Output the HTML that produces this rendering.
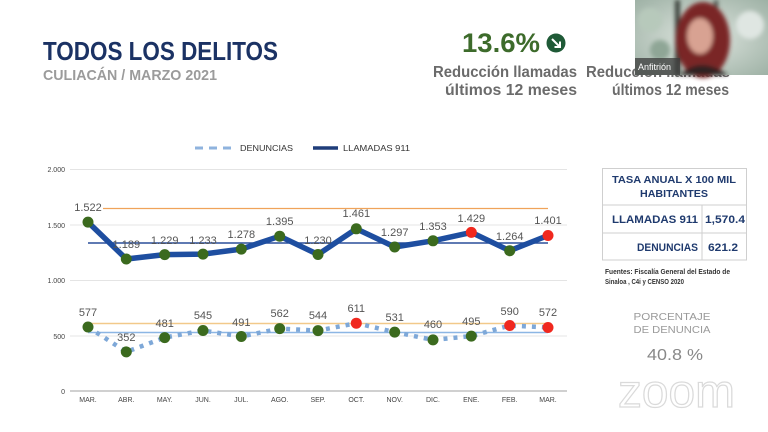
<!DOCTYPE html>
<html><head><meta charset="utf-8">
<style>
html,body{margin:0;padding:0;background:#fff;}
svg{display:block;font-family:"Liberation Sans",sans-serif;}
</style></head>
<body>
<svg width="768" height="432" viewBox="0 0 768 432" xmlns="http://www.w3.org/2000/svg">
<defs>
<radialGradient id="bg1" cx="0.5" cy="0.5" r="0.7">
<stop offset="0" stop-color="#dfe6e0"/><stop offset="1" stop-color="#9fb2a6"/>
</radialGradient>
<filter id="blur"><feGaussianBlur stdDeviation="2"/></filter>
</defs>
<rect width="768" height="432" fill="#fff"/>

<!-- Titles -->
<text x="43" y="60" font-size="26" font-weight="bold" fill="#1b3264" textLength="235" lengthAdjust="spacingAndGlyphs">TODOS LOS DELITOS</text>
<text x="43" y="80" font-size="15" font-weight="bold" fill="#9b9b9b" textLength="174" lengthAdjust="spacingAndGlyphs">CULIACÁN / MARZO 2021</text>

<text x="462" y="52" font-size="27" font-weight="bold" fill="#3d6b2b" textLength="78" lengthAdjust="spacingAndGlyphs">13.6%</text>
<circle cx="556" cy="43" r="9.5" fill="#1f5a37"/>
<path d="M552 39 L560 47 M560 41.5 L560 47 L554.5 47" stroke="#fff" stroke-width="2" fill="none"/>
<text x="433" y="77" font-size="16" font-weight="bold" fill="#6b6b6b" textLength="144" lengthAdjust="spacingAndGlyphs">Reducción llamadas</text>
<text x="445" y="95" font-size="16" font-weight="bold" fill="#6b6b6b" textLength="132" lengthAdjust="spacingAndGlyphs">últimos 12 meses</text>
<text x="586" y="77" font-size="16" font-weight="bold" fill="#6b6b6b" textLength="144" lengthAdjust="spacingAndGlyphs">Reducción llamadas</text>
<text x="612" y="95" font-size="16" font-weight="bold" fill="#6b6b6b" textLength="117" lengthAdjust="spacingAndGlyphs">últimos 12 meses</text>

<!-- Webcam -->
<g>
<rect x="635" y="0" width="133" height="75" fill="url(#bg1)"/>
<g filter="url(#blur)">
<circle cx="650" cy="20" r="12" fill="#b7c9bb"/>
<circle cx="750" cy="25" r="14" fill="#dfe6e2"/>
<circle cx="660" cy="50" r="10" fill="#8fa696"/>
<rect x="675" y="0" width="5" height="75" fill="#3a3f3a"/>
<rect x="714" y="0" width="4" height="40" fill="#4a4f4a"/>
<ellipse cx="703" cy="40" rx="27" ry="38" fill="#7a2626"/>
<ellipse cx="700" cy="36" rx="13" ry="18" fill="#d8a292"/>
<path d="M680 75 Q700 55 728 75 Z" fill="#2d2222"/>
</g>
<rect x="635" y="58" width="45" height="17" fill="#3b3b3b" opacity="0.75"/>
<text x="638" y="70" font-size="9" fill="#fff">Anfitrión</text>
</g>

<!-- Legend -->
<line x1="195" y1="148" x2="233" y2="148" stroke="#8fb3de" stroke-width="3" stroke-dasharray="8 6"/>
<text x="240" y="151" font-size="8.5" fill="#333" textLength="53" lengthAdjust="spacingAndGlyphs">DENUNCIAS</text>
<line x1="313" y1="148" x2="338" y2="148" stroke="#1f3d7a" stroke-width="3.5"/>
<text x="343" y="151" font-size="8.5" fill="#333" textLength="67" lengthAdjust="spacingAndGlyphs">LLAMADAS 911</text>

<!-- Grid -->
<g stroke="#e4e4e4" stroke-width="1">
<line x1="70" y1="169.5" x2="567" y2="169.5"/>
<line x1="70" y1="225" x2="567" y2="225"/>
<line x1="70" y1="280.5" x2="567" y2="280.5"/>
<line x1="70" y1="336" x2="567" y2="336"/>
</g>
<line x1="70" y1="391" x2="567" y2="391" stroke="#a0a0a0" stroke-width="1"/>
<g font-size="7" fill="#444" text-anchor="end">
<text x="65" y="172">2.000</text>
<text x="65" y="228">1.500</text>
<text x="65" y="283">1.000</text>
<text x="65" y="339">500</text>
<text x="65" y="394">0</text>
</g>
<g font-size="7" fill="#444" text-anchor="middle">
<text x="88" y="402">MAR.</text>
<text x="126.3" y="402">ABR.</text>
<text x="164.7" y="402">MAY.</text>
<text x="203" y="402">JUN.</text>
<text x="241.3" y="402">JUL.</text>
<text x="279.7" y="402">AGO.</text>
<text x="318" y="402">SEP.</text>
<text x="356.3" y="402">OCT.</text>
<text x="394.7" y="402">NOV.</text>
<text x="433" y="402">DIC.</text>
<text x="471.3" y="402">ENE.</text>
<text x="509.7" y="402">FEB.</text>
<text x="548" y="402">MAR.</text>
</g>

<!-- Reference lines -->
<line x1="103" y1="208.5" x2="548" y2="208.5" stroke="#f0a35a" stroke-width="1.3"/>
<line x1="88" y1="243" x2="548" y2="243" stroke="#2a4f9a" stroke-width="1.5"/>
<line x1="88" y1="323.5" x2="548" y2="323.5" stroke="#f2c98a" stroke-width="1.5"/>
<line x1="88" y1="332.5" x2="548" y2="332.5" stroke="#8cb6e4" stroke-width="1.5"/>

<!-- Llamadas -->
<polyline fill="none" stroke="#1e4ea0" stroke-width="5.5" stroke-linejoin="round" points="88,222.1 126.3,259 164.7,254.6 203,254.1 241.3,249.1 279.7,236.2 318,254.5 356.3,228.8 394.7,247 433,240.8 471.3,232.4 509.7,250.7 548,235.5"/>
<!-- Denuncias -->
<polyline fill="none" stroke="#7ea8d8" stroke-width="4.5" stroke-dasharray="4 6" points="88,327 126.3,351.9 164.7,337.6 203,330.5 241.3,336.5 279.7,328.6 318,330.6 356.3,323.2 394.7,332.1 433,339.9 471.3,336.1 509.7,325.5 548,327.5"/>

<g fill="#3b6a1e">
<circle cx="88" cy="222.1" r="5.5"/>
<circle cx="126.3" cy="259" r="5.5"/>
<circle cx="164.7" cy="254.6" r="5.5"/>
<circle cx="203" cy="254.1" r="5.5"/>
<circle cx="241.3" cy="249.1" r="5.5"/>
<circle cx="279.7" cy="236.2" r="5.5"/>
<circle cx="318" cy="254.5" r="5.5"/>
<circle cx="356.3" cy="228.8" r="5.5"/>
<circle cx="394.7" cy="247" r="5.5"/>
<circle cx="433" cy="240.8" r="5.5"/>
<circle cx="509.7" cy="250.7" r="5.5"/>
<circle cx="88" cy="327" r="5.5"/>
<circle cx="126.3" cy="351.9" r="5.5"/>
<circle cx="164.7" cy="337.6" r="5.5"/>
<circle cx="203" cy="330.5" r="5.5"/>
<circle cx="241.3" cy="336.5" r="5.5"/>
<circle cx="279.7" cy="328.6" r="5.5"/>
<circle cx="318" cy="330.6" r="5.5"/>
<circle cx="394.7" cy="332.1" r="5.5"/>
<circle cx="433" cy="339.9" r="5.5"/>
<circle cx="471.3" cy="336.1" r="5.5"/>
</g>
<g fill="#f0281e">
<circle cx="471.3" cy="232.4" r="5.5"/>
<circle cx="548" cy="235.5" r="5.5"/>
<circle cx="356.3" cy="323.2" r="5.5"/>
<circle cx="509.7" cy="325.5" r="5.5"/>
<circle cx="548" cy="327.5" r="5.5"/>
</g>

<g font-size="11" fill="#555" text-anchor="middle">
<text x="88" y="211">1.522</text>
<text x="126.3" y="248">1.189</text>
<text x="164.7" y="244">1.229</text>
<text x="203" y="244">1.233</text>
<text x="241.3" y="238">1.278</text>
<text x="279.7" y="225">1.395</text>
<text x="318" y="244">1.230</text>
<text x="356.3" y="217">1.461</text>
<text x="394.7" y="236">1.297</text>
<text x="433" y="230">1.353</text>
<text x="471.3" y="222">1.429</text>
<text x="509.7" y="240">1.264</text>
<text x="548" y="224">1.401</text>
<text x="88" y="316">577</text>
<text x="126.3" y="341">352</text>
<text x="164.7" y="327">481</text>
<text x="203" y="319">545</text>
<text x="241.3" y="326">491</text>
<text x="279.7" y="317">562</text>
<text x="318" y="319">544</text>
<text x="356.3" y="312">611</text>
<text x="394.7" y="321">531</text>
<text x="433" y="328">460</text>
<text x="471.3" y="325">495</text>
<text x="509.7" y="315">590</text>
<text x="548" y="316">572</text>
</g>

<!-- Table -->
<g stroke="#cfcfcf" stroke-width="1" fill="none">
<rect x="602.5" y="168.5" width="144" height="91.5"/>
<line x1="602.5" y1="205" x2="746.5" y2="205"/>
<line x1="602.5" y1="233" x2="746.5" y2="233"/>
<line x1="702" y1="205" x2="702" y2="260"/>
</g>
<g font-weight="bold" fill="#1f3a6e">
<text x="674" y="183" font-size="10.5" text-anchor="middle" textLength="124" lengthAdjust="spacingAndGlyphs">TASA ANUAL X 100 MIL</text>
<text x="674" y="197" font-size="10.5" text-anchor="middle" textLength="68" lengthAdjust="spacingAndGlyphs">HABITANTES</text>
<text x="612" y="223" font-size="11" textLength="86" lengthAdjust="spacingAndGlyphs">LLAMADAS 911</text>
<text x="705" y="223" font-size="11" textLength="40" lengthAdjust="spacingAndGlyphs">1,570.4</text>
<text x="637" y="251" font-size="11" textLength="61" lengthAdjust="spacingAndGlyphs">DENUNCIAS</text>
<text x="708" y="251" font-size="11" textLength="30" lengthAdjust="spacingAndGlyphs">621.2</text>
</g>
<text x="605" y="274" font-size="7" font-weight="bold" fill="#333" textLength="125" lengthAdjust="spacingAndGlyphs">Fuentes: Fiscalía General del Estado de</text>
<text x="605" y="284" font-size="7" font-weight="bold" fill="#333" textLength="79" lengthAdjust="spacingAndGlyphs">Sinaloa , C4i y CENSO 2020</text>

<text x="672" y="320" font-size="10.5" fill="#9a9a9a" text-anchor="middle" textLength="77" lengthAdjust="spacingAndGlyphs">PORCENTAJE</text>
<text x="672" y="333" font-size="10.5" fill="#9a9a9a" text-anchor="middle" textLength="77" lengthAdjust="spacingAndGlyphs">DE DENUNCIA</text>
<text x="675" y="360" font-size="16" fill="#888" text-anchor="middle" textLength="56" lengthAdjust="spacingAndGlyphs">40.8 %</text>

<text x="618" y="407" font-size="46" fill="#fff" stroke="#dadada" stroke-width="1.2" textLength="117" lengthAdjust="spacingAndGlyphs">zoom</text>
</svg>
</body></html>
